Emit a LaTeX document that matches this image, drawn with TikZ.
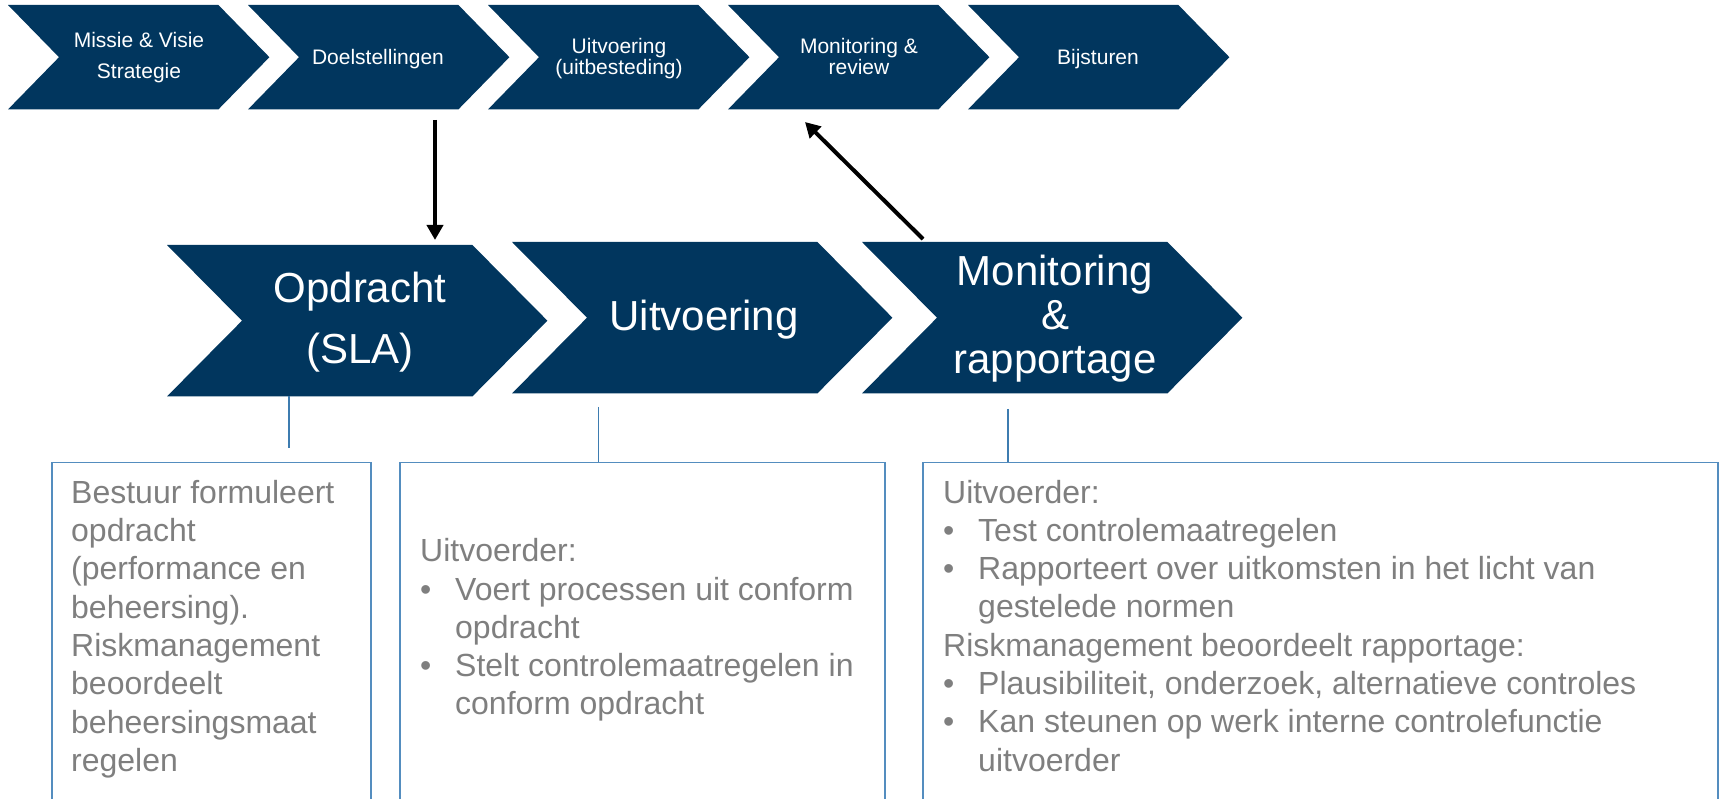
\documentclass[tikz,border=0pt]{standalone}
\usepackage{fontspec}
\setmainfont{Liberation Sans}
\usetikzlibrary{arrows.meta}

\definecolor{navy}{RGB}{1,54,94}
\definecolor{framec}{RGB}{84,141,191}
\definecolor{linkc}{RGB}{62,124,176}
\definecolor{bodytext}{RGB}{127,127,127}

% centred / left-aligned multi-line text whose reference point is the first baseline
\newcommand\chevtext[2]{\parbox[t]{#1}{\centering #2}}
\newcommand\leftcol[2]{\parbox[t]{#1}{\raggedright #2}}
\newcommand\bul{\makebox[35pt][l]{\textbullet}}
\newcommand\cont{\hspace*{35pt}}
% chevron body: rectangle node plus tip on the right and notch on the left
\newcommand\chevronfill[2]{%
  \fill[navy] (#1.north west) -- (#1.north east) -- ([xshift=#2]#1.east)
    -- (#1.south east) -- (#1.south west) -- ([xshift=#2]#1.west) -- cycle;}

\begin{document}
\begin{tikzpicture}[x=1pt,y=-1pt,
  smallbody/.style={inner sep=0pt, minimum width=210pt, minimum height=104pt, anchor=north west},
  bigbody/.style={inner sep=0pt, minimum width=305pt, minimum height=151pt, anchor=north west},
  smalllabel/.style={text=white, anchor=base, inner sep=0pt, font=\fontsize{21}{21}\selectfont},
  biglabel/.style={text=white, anchor=base, inner sep=0pt, font=\fontsize{42}{43.7}\selectfont},
  infobox/.style={draw=framec, line width=1.8pt, inner sep=0pt, anchor=north west, minimum height=420pt},
  notes/.style={text=bodytext, anchor=base west, inner sep=0pt, font=\fontsize{32}{38.3}\selectfont},
  flow/.style={-{Triangle[length=15pt,width=16pt]}, line width=4pt, black},
  link/.style={draw=linkc, line width=1.5pt}]

\useasboundingbox (0,0) rectangle (1719,799);
\clip (0,0) rectangle (1719,799);

% top process chain
\node[smallbody] (c1) at (8,5) {};
\node[smallbody] (c2) at (248,5) {};
\node[smallbody] (c3) at (488,5) {};
\node[smallbody] (c4) at (728,5) {};
\node[smallbody] (c5) at (968,5) {};
\chevronfill{c1}{51pt}
\chevronfill{c2}{51pt}
\chevronfill{c3}{51pt}
\chevronfill{c4}{51pt}
\chevronfill{c5}{51pt}

\node[smalllabel, font=\fontsize{21}{31}\selectfont] (l1) at (139,47.3) {\chevtext{200pt}{Missie \& Visie\\Strategie}};
\node[smalllabel] (l2) at (378,65) {Doelstellingen};
\node[smalllabel] (l3) at (619,54) {\chevtext{200pt}{Uitvoering\\(uitbesteding)}};
\node[smalllabel] (l4) at (859,53.3) {\chevtext{200pt}{Monitoring \&\\review}};
\node[smalllabel] (l5) at (1098,65) {Bijsturen};

% outsourcing chain
\node[bigbody] (ca) at (167,245) {};
\node[bigbody] (cb) at (512,242) {};
\node[bigbody] (cc) at (862,242) {};
\chevronfill{ca}{75pt}
\chevronfill{cb}{75pt}
\chevronfill{cc}{75pt}

\node[biglabel, font=\fontsize{42}{60.6}\selectfont] (la) at (360,302.7) {\chevtext{300pt}{Opdracht\\(SLA)}};
\node[biglabel] (lb) at (704,330.7) {Uitvoering};
\node[biglabel] (lc) at (1055,286) {\chevtext{300pt}{Monitoring\\\&\\rapportage}};

% description boxes
\node[infobox, minimum width=319pt] (box1) at (51,461.5) {};
\node[infobox, minimum width=485pt] (box2) at (399,461.5) {};
\node[infobox, minimum width=795pt] (box3) at (922,461.5) {};

\node[notes] (n1) at (71,503.3) {\leftcol{295pt}{Bestuur formuleert\\opdracht\\(performance en\\beheersing).\\Riskmanagement\\beoordeelt\\beheersingsmaat\\regelen}};
\node[notes] (n2) at (420,561.7) {\leftcol{460pt}{Uitvoerder:\\\bul Voert processen uit conform\\\cont opdracht\\\bul Stelt controlemaatregelen in\\\cont conform opdracht}};
\node[notes] (n3) at (943,503) {\leftcol{770pt}{Uitvoerder:\\\bul Test controlemaatregelen\\\bul Rapporteert over uitkomsten in het licht van\\\cont gestelede normen\\Riskmanagement beoordeelt rapportage:\\\bul Plausibiliteit, onderzoek, alternatieve controles\\\bul Kan steunen op werk interne controlefunctie\\\cont uitvoerder}};

% thin links from the chain to the boxes
\coordinate (k1) at (289,448);
\coordinate (k2) at (598.7,407);
\coordinate (k3) at (1008,409);
\draw[link] (k1 |- ca.south) -- (k1);
\draw[link] (k2) -- (k2 |- box2.north);
\draw[link] (k3) -- (k3 |- box3.north);

% arrows between the two chains
\coordinate (a1) at (435,120);
\draw[flow, shorten >=5pt] (a1) -- (a1 |- ca.north);
\coordinate (a2) at (805,122);
\draw[flow] ([xshift=61pt, yshift=3pt]cc.north west) -- (a2);
\end{tikzpicture}
\end{document}
